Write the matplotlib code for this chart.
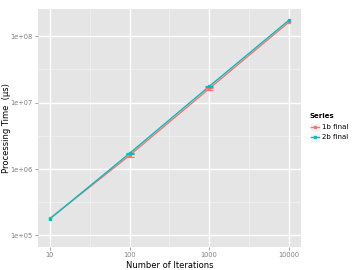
import matplotlib
matplotlib.use("Agg")
import matplotlib.pyplot as plt
import numpy as np
from matplotlib.lines import Line2D
from matplotlib.patches import Rectangle

iterations = [10, 100, 1000, 10000]
series_names = ["1b final", "2b final"]
vals_1b = [1.8e5, 1.6e6, 1.62e7, 1.62e8]
vals_2b = [1.78e5, 1.72e6, 1.75e7, 1.73e8]
err_1b = [0.0, 0.06e6, 0.06e7, 0.0]
err_2b = [0.0, 0.05e6, 0.05e7, 0.0]
colors = ["#F8766D", "#00BFC4"]
yticks = [1e5, 1e6, 1e7, 1e8]
ytick_labels = ["1e+05", "1e+06", "1e+07", "1e+08"]
xtick_labels = ["10", "100", "1000", "10000"]

fig = plt.figure(figsize=(3.6, 2.7), dpi=100)
ax = fig.add_axes([0.1056, 0.0863, 0.835 - 0.1056, 0.9667 - 0.0863])
ax.set_facecolor("#E5E5E5")
ax.set_xscale("log")
ax.set_yscale("log")
ax.set_xlim(10**0.85, 10**4.15)
ax.set_ylim(10**4.83, 10**8.41)

# grid
for e in [1.5, 2.5, 3.5]:
    ax.axvline(10**e, color="#F2F2F2", lw=0.5, zorder=0)
for e in [4.5, 5.5, 6.5, 7.5]:
    ax.axhline(10**e, color="#F2F2F2", lw=0.5, zorder=0)
for x in iterations:
    ax.axvline(x, color="white", lw=1.0, zorder=0)
for y in yticks:
    ax.axhline(y, color="white", lw=1.0, zorder=0)

for vals, errs, c, name in zip([vals_1b, vals_2b], [err_1b, err_2b], colors, series_names):
    ax.plot(iterations, vals, color=c, lw=1.0, zorder=3)
    ax.plot(iterations, vals, "s", ms=2.0, color=c, zorder=4)
    xs = [x for x, e in zip(iterations, errs) if e > 0]
    ys = [v for v, e in zip(vals, errs) if e > 0]
    es = [e for e in errs if e > 0]
    ax.errorbar(xs, ys, yerr=es, fmt="none", ecolor=c, elinewidth=0.7,
                capsize=3, capthick=0.8, zorder=4)

ax.minorticks_off()
ax.set_xticks(iterations)
ax.set_xticklabels(xtick_labels)
ax.set_yticks(yticks)
ax.set_yticklabels(ytick_labels)
ax.tick_params(axis="both", which="major", labelsize=4.8, labelcolor="#7F7F7F",
               color="#7F7F7F", length=2.5, width=0.5, pad=1.5)
for s in ax.spines.values():
    s.set_visible(False)
ax.set_xlabel("Number of Iterations", fontsize=6, labelpad=2)
ax.set_ylabel("Processing Time  (\u03bcs)", fontsize=6)
ax.yaxis.set_label_coords(-0.102, 0.5)

# legend
fig.text(310 / 360, 1 - 116 / 270, "Series", fontsize=5, fontweight="bold", va="center")
for i, (name, c) in enumerate(zip(series_names, colors)):
    yc = 1 - (127 + i * 10) / 270
    fig.patches.append(Rectangle((310 / 360, yc - 4.5 / 270), 10 / 360, 9 / 270,
                                 transform=fig.transFigure, facecolor="#F2F2F2",
                                 edgecolor="white", lw=0.5))
    fig.lines.append(Line2D([311 / 360, 319 / 360], [yc, yc], transform=fig.transFigure,
                            color=c, lw=1.0))
    fig.lines.append(Line2D([315 / 360], [yc], transform=fig.transFigure,
                            color=c, marker="s", ms=2, lw=0))
    fig.text(322 / 360, yc, name, fontsize=5, va="center")

fig.savefig("out.png", dpi=100)
